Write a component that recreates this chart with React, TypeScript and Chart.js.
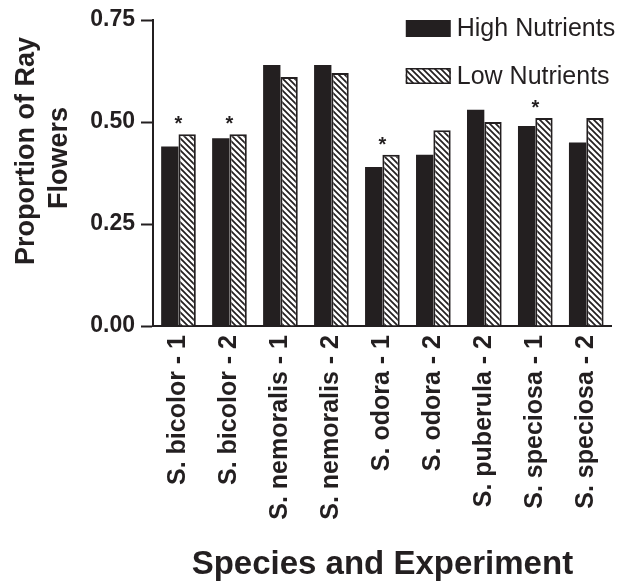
import React, { useEffect, useRef } from "react";
import { Chart, registerables } from "chart.js";

Chart.register(...registerables);

const categories = [
  "S. bicolor - 1",
  "S. bicolor - 2",
  "S. nemoralis - 1",
  "S. nemoralis - 2",
  "S. odora - 1",
  "S. odora - 2",
  "S. puberula - 2",
  "S. speciosa - 1",
  "S. speciosa - 2",
];
const highNutrients = [0.44, 0.46, 0.64, 0.64, 0.39, 0.42, 0.53, 0.49, 0.45];
const lowNutrients = [0.47, 0.47, 0.61, 0.62, 0.42, 0.48, 0.5, 0.51, 0.51];
const significant = [true, true, false, false, true, false, false, true, false];
const yTickValues = [0, 0.25, 0.5, 0.75];
const seriesLabels = ["High Nutrients", "Low Nutrients"];
const xTitle = "Species and Experiment";
const yTitle = ["Proportion of Ray", "Flowers"];

const INK = "#231f20";
const FONT = "'Liberation Sans', Arial, Helvetica, sans-serif";

function makeHatch(): CanvasPattern | string {
  const s = 6;
  const c = document.createElement("canvas");
  c.width = s;
  c.height = s;
  const g = c.getContext("2d");
  if (!g) return "#fff";
  g.fillStyle = "#ffffff";
  g.fillRect(0, 0, s, s);
  g.strokeStyle = INK;
  g.lineWidth = 1.7;
  g.beginPath();
  g.moveTo(-1, -1);
  g.lineTo(s + 1, s + 1);
  g.moveTo(-1, s - 1);
  g.lineTo(1, s + 1);
  g.moveTo(s - 1, -1);
  g.lineTo(s + 1, 1);
  g.stroke();
  const p = g.createPattern(c, "repeat");
  return p || "#fff";
}

export default function App() {
  const ref = useRef<HTMLCanvasElement | null>(null);

  useEffect(() => {
    const canvas = ref.current;
    if (!canvas) return;
    const hatch = makeHatch();

    const overlay = {
      id: "overlay",
      afterDatasetsDraw(chart: any) {
        const ctx = chart.ctx;
        const xs = chart.scales.x;
        const ys = chart.scales.y;
        ctx.save();
        // asterisks
        ctx.fillStyle = INK;
        ctx.font = `bold 20px ${FONT}`;
        ctx.textAlign = "center";
        ctx.textBaseline = "alphabetic";
        significant.forEach((sig, i) => {
          if (!sig) return;
          const x = xs.getPixelForValue(i);
          const top = ys.getPixelForValue(Math.max(highNutrients[i], lowNutrients[i]));
          ctx.fillText("*", x, top - 4);
        });
        // legend
        const ca = chart.chartArea;
        const bx = ca.right - 206;
        const bw = 45;
        const bh = 16;
        const rows = [ca.top, ca.top + 48];
        ctx.font = `25px ${FONT}`;
        ctx.textAlign = "left";
        ctx.textBaseline = "middle";
        rows.forEach((ry, k) => {
          if (k === 0) {
            ctx.fillStyle = INK;
            ctx.fillRect(bx, ry, bw, bh + 1);
          } else {
            ctx.fillStyle = hatch as any;
            ctx.fillRect(bx, ry, bw, bh);
            ctx.strokeStyle = INK;
            ctx.lineWidth = 1.5;
            ctx.strokeRect(bx + 0.75, ry + 0.75, bw - 1.5, bh - 1.5);
          }
          ctx.fillStyle = INK;
          ctx.fillText(seriesLabels[k], bx + bw + 6, ry + bh / 2 + 1);
        });
        // y axis title (two centred lines)
        ctx.font = `bold 27px ${FONT}`;
        ctx.textAlign = "center";
        ctx.textBaseline = "middle";
        const yCenters = [151, 158];
        const xCenters = [27, 60];
        yTitle.forEach((line, k) => {
          ctx.save();
          ctx.translate(xCenters[k], yCenters[k]);
          ctx.rotate(-Math.PI / 2);
          ctx.fillText(line, 0, 0);
          ctx.restore();
        });
        ctx.restore();
      },
    };

    const chart = new Chart(canvas, {
      type: "bar",
      data: {
        labels: categories,
        datasets: [
          {
            label: seriesLabels[0],
            data: highNutrients,
            backgroundColor: INK,
            borderColor: INK,
            borderWidth: 0,
            categoryPercentage: 0.68,
            barPercentage: 1,
          },
          {
            label: seriesLabels[1],
            data: lowNutrients,
            backgroundColor: hatch as any,
            borderColor: INK,
            borderWidth: 2,
            borderSkipped: "bottom",
            categoryPercentage: 0.68,
            barPercentage: 1,
          },
        ],
      },
      options: {
        responsive: false,
        animation: false,
        devicePixelRatio: 1,
        layout: { padding: { top: 20, right: 13, left: 0, bottom: 0 } },
        plugins: {
          legend: { display: false },
          tooltip: { enabled: false },
        },
        scales: {
          x: {
            afterFit(scale: any) {
              scale.height = 259;
            },
            grid: { display: false, drawTicks: false },
            border: { display: true, color: INK, width: 2 },
            ticks: {
              autoSkip: false,
              maxRotation: 90,
              minRotation: 90,
              padding: 9,
              color: INK,
              font: { family: FONT, size: 25, weight: "bold" },
            },
            title: {
              display: true,
              text: xTitle,
              color: INK,
              font: { family: FONT, size: 33, weight: "bold" },
              padding: { top: 0, bottom: 0 },
            },
          },
          y: {
            min: 0,
            max: 0.75,
            afterFit(scale: any) {
              scale.width = 153;
            },
            afterBuildTicks(scale: any) {
              scale.ticks = yTickValues.map((v) => ({ value: v }));
            },
            grid: {
              display: true,
              drawOnChartArea: false,
              drawTicks: true,
              tickLength: 12,
              tickWidth: 2,
              tickColor: INK,
            },
            border: { display: true, color: INK, width: 2 },
            ticks: {
              padding: 6,
              color: INK,
              font: { family: FONT, size: 23, weight: "bold" },
              callback: (v: any) => Number(v).toFixed(2),
            },
            title: { display: false },
          },
        },
      },
      plugins: [overlay],
    });

    return () => chart.destroy();
  }, []);

  return (
    <div style={{ position: "absolute", left: 0, top: 0, width: 626, height: 585, background: "#fff" }}>
      <canvas ref={ref} width={626} height={585} style={{ display: "block" }} />
    </div>
  );
}
